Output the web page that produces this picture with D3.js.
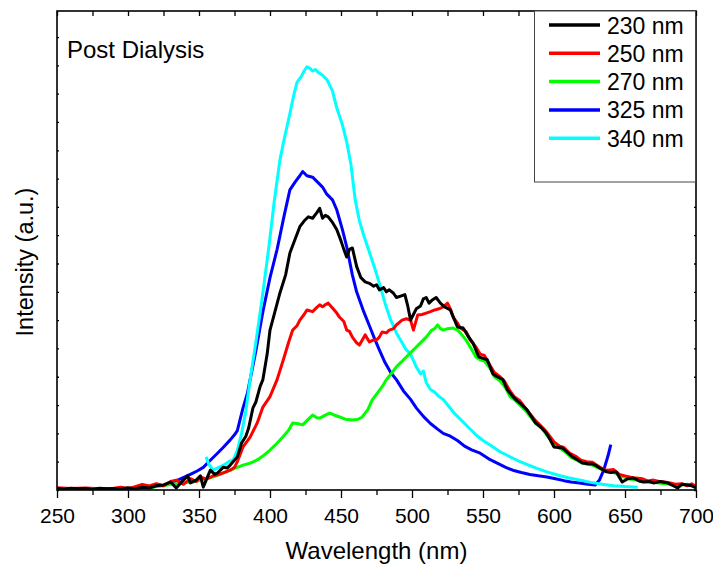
<!DOCTYPE html>
<html>
<head>
<meta charset="utf-8">
<script src="https://cdn.jsdelivr.net/npm/d3@7"></script>
<style>
  body { margin: 0; background: #fff; }
  svg text { font-family: "Liberation Sans", Arial, sans-serif; fill: #000; }
</style>
</head>
<body>
<div id="main"></div>
<script>
const ctx = {
    w: 713,
    h: 565,
    left: 57,
    right: 696,
    top: 11,
    bottom: 490,
};

// excitation wavelengths (legend)
const labels = ["230 nm", "250 nm", "270 nm", "325 nm", "340 nm"];
const colors = ["#000000", "#ff0000", "#00ff00", "#0000ff", "#00ffff"];
const xTicks = [250, 300, 350, 400, 450, 500, 550, 600, 650, 700];

// emission spectra, wavelength (nm) and intensity (a.u.)
const wl230 = [250,255,260,265,270,275,280,285,290,295,300,305,310,315,320,325,330,334,339,342,344,348,351,353,358,361,363,367,370,372,377,380,383,385,388,390,393,395,398,400,404,407,411,414,418,421,424,427,430,433,435,437,439,441,444,447,450,452,454,456,458,461,464,467,470,473,475,477,480,482,484,487,489,492,495,497,499,501,503,506,508,510,512,514,517,520,523,527,530,532,536,540,543,547,550,553,557,560,564,567,571,574,576,581,584,587,590,594,597,600,603,606,610,613,617,620,624,627,630,633,637,640,644,646,648,652,656,660,663,667,670,675,680,684,687,690,694,697,700];
const i230 = [0.05,0.03,0.06,0.04,0.05,0.02,0.06,0.04,0.05,0.03,0.08,0.04,0.1,0.07,0.15,0.18,0.28,0.07,0.35,0.5,0.25,0.35,0.5,0.1,0.7,0.55,0.6,0.8,0.78,0.88,1.17,1.66,1.9,2.2,2.9,3.1,3.65,3.9,4.8,5.65,6.4,6.96,7.6,8.37,8.9,9.3,9.5,9.65,9.6,9.8,9.95,9.6,9.7,9.65,9.45,9.2,8.8,8.5,8.23,8.5,8.55,7.9,7.5,7.35,7.3,7.2,7.25,7.07,7.15,7.0,7.07,6.95,6.8,6.85,6.9,6.5,6.0,6.2,6.4,6.5,6.75,6.8,6.6,6.7,6.8,6.6,6.47,6.36,6.0,5.76,5.72,5.4,5.19,4.7,4.65,4.6,4.1,4.0,3.9,3.55,3.3,3.15,3.07,2.83,2.6,2.37,2.25,2.05,1.8,1.52,1.5,1.48,1.3,1.17,1.05,0.95,0.93,0.92,0.85,0.75,0.64,0.62,0.64,0.45,0.28,0.4,0.42,0.32,0.28,0.3,0.25,0.3,0.25,0.15,0.07,0.2,0.18,0.15,0.07];

const wl250 = [250,260,270,280,290,295,300,305,310,315,320,325,330,334,339,344,348,351,355,360,363,368,372,375,377,381,386,391,395,400,405,410,413,416,419,421,424,426,430,433,435,437,439,441,444,447,449,452,454,456,458,461,463,465,467,470,473,475,477,479,482,484,487,489,493,496,499,501,504,507,510,513,516,519,522,525,527,529,532,534,538,541,545,548,551,555,558,562,565,569,572,576,579,583,587,590,594,597,600,604,607,611,615,619,623,627,631,635,638,642,646,650,654,658,662,666,670,674,678,682,686,690,694,697,700];
const i250 = [0.08,0.05,0.07,0.04,0.06,0.1,0.05,0.12,0.2,0.14,0.22,0.15,0.3,0.35,0.2,0.4,0.3,0.46,0.38,0.5,0.53,0.62,0.7,0.8,1.0,1.52,1.87,2.37,2.93,3.3,3.9,4.7,5.2,5.65,5.8,6.0,6.2,6.36,6.3,6.45,6.54,6.47,6.55,6.6,6.43,6.25,6.1,5.95,5.65,5.6,5.4,5.2,5.12,5.3,5.48,5.23,5.3,5.3,5.4,5.58,5.55,5.65,5.7,5.83,6.0,6.05,6.0,5.65,6.18,6.2,6.25,6.3,6.36,6.4,6.47,6.6,6.4,6.1,5.9,5.72,5.6,5.3,5.05,4.8,4.75,4.4,4.15,4.0,3.85,3.5,3.3,3.15,2.95,2.7,2.45,2.3,2.1,1.9,1.7,1.55,1.5,1.3,1.2,1.05,1.0,0.98,0.85,0.72,0.7,0.72,0.55,0.5,0.45,0.42,0.4,0.32,0.35,0.3,0.28,0.25,0.2,0.22,0.15,0.22,0.12];

const wl270 = [250,260,270,280,290,300,305,310,315,320,325,330,335,339,344,348,351,355,359,363,367,372,376,381,386,391,395,400,404,409,413,416,419,423,426,430,433,435,438,442,445,449,453,458,462,465,469,472,476,479,482,486,489,493,496,500,503,507,510,514,516,518,520,522,525,529,532,534,538,541,545,548,551,555,558,562,566,569,573,576,580,584,587,591,594,598,601,605,609,612,616,620,624,627,631,635,639,643,646,650,654,658,662,666,670,674,678,682,686,690,694,697,700];
const i270 = [0.03,0.05,0.03,0.04,0.05,0.03,0.06,0.05,0.07,0.12,0.15,0.2,0.22,0.25,0.28,0.3,0.35,0.4,0.45,0.53,0.6,0.7,0.78,0.88,0.95,1.06,1.2,1.41,1.6,1.87,2.1,2.37,2.35,2.3,2.45,2.65,2.55,2.54,2.62,2.72,2.65,2.58,2.5,2.47,2.5,2.58,2.85,3.18,3.45,3.65,3.9,4.15,4.35,4.55,4.7,4.9,5.05,5.25,5.4,5.65,5.7,5.83,5.7,5.65,5.7,5.72,5.65,5.55,5.3,5.05,4.7,4.6,4.55,4.3,4.0,3.85,3.6,3.3,3.15,3.0,2.8,2.55,2.35,2.2,2.0,1.75,1.55,1.45,1.3,1.15,1.05,0.95,0.9,0.88,0.78,0.7,0.65,0.6,0.5,0.45,0.38,0.35,0.3,0.28,0.27,0.25,0.22,0.2,0.15,0.18,0.2,0.15,0.1];

const wl325 = [330,335,340,345,349,353,358,363,367,372,375,377,379,381,384,386,390,395,400,405,410,414,418,421,423,426,430,433,437,440,444,447,451,454,458,461,466,470,474,477,481,485,489,494,499,503,508,513,518,522,527,532,537,542,548,554,560,566,571,577,583,589,595,601,607,612,618,624,629,632,635,638,640];
const i325 = [0.25,0.35,0.46,0.58,0.68,0.8,1.05,1.3,1.5,1.77,1.95,2.1,2.5,2.9,3.4,3.9,4.9,6.3,7.5,8.5,9.7,10.6,10.9,11.1,11.25,11.1,11.05,10.9,10.7,10.45,10.25,9.9,9.2,8.6,7.6,7.0,6.3,5.8,5.3,4.95,4.5,4.15,3.9,3.5,3.2,2.9,2.6,2.35,2.15,2.0,1.9,1.75,1.55,1.42,1.3,1.1,0.95,0.8,0.7,0.62,0.55,0.5,0.46,0.4,0.33,0.28,0.25,0.2,0.18,0.35,0.7,1.2,1.6];

const wl340 = [355,357,360,364,368,371,374,377,380,383,386,390,394,399,403,407,410,414,417,419,422,424,426,428,430,432,434,437,440,444,447,451,454,457,460,463,466,470,474,477,481,485,489,493,496,499,503,506,508,510,513,516,519,522,526,530,535,540,545,550,556,562,568,574,580,587,595,603,610,618,626,634,642,650,659];
const i340 = [1.17,0.9,0.7,0.8,0.9,1.0,1.06,1.4,2.0,2.8,3.9,5.2,6.6,8.5,10.2,11.66,12.4,13.3,14.0,14.4,14.6,14.8,14.95,14.9,14.8,14.85,14.75,14.65,14.5,14.1,13.5,12.9,12.3,11.5,10.25,9.5,9.0,8.4,7.8,7.3,6.6,6.0,5.55,5.2,4.95,4.8,4.35,4.1,4.2,3.8,3.55,3.45,3.3,3.2,2.95,2.7,2.45,2.2,1.95,1.75,1.55,1.35,1.2,1.05,0.92,0.78,0.64,0.52,0.43,0.35,0.27,0.2,0.15,0.12,0.1];

const series = [
    {wl: wl230, v: i230},
    {wl: wl250, v: i250},
    {wl: wl270, v: i270},
    {wl: wl325, v: i325},
    {wl: wl340, v: i340},
];

function createChart(svg) {
    let x = d3.scaleLinear().domain([250, 700]).range([ctx.left, ctx.right]);
    let y = d3.scaleLinear().domain([0, 16.92]).range([ctx.bottom, ctx.top]);

    svg.append("clipPath").attr("id", "plot-clip")
       .append("rect")
       .attr("x", ctx.left).attr("y", ctx.top)
       .attr("width", ctx.right - ctx.left).attr("height", ctx.bottom - ctx.top);

    let line = d3.line()
        .x(d => x(d[0]))
        .y(d => y(d[1]));

    // back to front: 325, 340, 270, 250, 230
    let order = [3, 4, 2, 1, 0];
    svg.append("g").attr("clip-path", "url(#plot-clip)")
       .selectAll("path")
       .data(order)
       .enter()
       .append("path")
       .attr("d", i => line(series[i].wl.map((w, k) => [w, series[i].v[k]])))
       .attr("fill", "none")
       .attr("stroke", i => colors[i])
       .attr("stroke-width", 3)
       .attr("stroke-linejoin", "round");

    // axes
    let minor = d3.range(275, 700, 50);
    svg.append("g")
       .attr("transform", `translate(0,${ctx.bottom})`)
       .call(d3.axisBottom(x).tickValues(xTicks).tickSize(8).tickPadding(9).tickFormat(d3.format("d")))
       .call(g => g.select(".domain").remove())
       .call(g => g.selectAll("text").style("font-size", "21px").attr("dy", "0.75em"));
    svg.append("g")
       .attr("transform", `translate(0,${ctx.bottom})`)
       .call(d3.axisBottom(x).tickValues(minor).tickSize(5).tickFormat(""))
       .call(g => g.select(".domain").remove());
    svg.append("g")
       .attr("transform", `translate(0,${ctx.top})`)
       .call(d3.axisTop(x).tickValues(d3.range(250, 701, 25)).tickSize(-5).tickFormat(""))
       .call(g => g.select(".domain").remove());
    svg.append("g")
       .attr("transform", `translate(${ctx.left},0)`)
       .call(d3.axisLeft(y).tickValues(d3.range(0, 17)).tickSize(-2).tickFormat(""))
       .call(g => g.select(".domain").remove());
    svg.append("g")
       .attr("transform", `translate(${ctx.right},0)`)
       .call(d3.axisRight(y).tickValues(d3.range(0, 17)).tickSize(-2).tickFormat(""))
       .call(g => g.select(".domain").remove());
    svg.selectAll(".tick line").attr("stroke", "#000").attr("stroke-width", 1.3);

    svg.append("rect")
       .attr("x", ctx.left).attr("y", ctx.top)
       .attr("width", ctx.right - ctx.left).attr("height", ctx.bottom - ctx.top)
       .attr("fill", "none").attr("stroke", "#000").attr("stroke-width", 1.6);

    // titles
    svg.append("text")
       .attr("x", (ctx.left + ctx.right) / 2).attr("y", 559)
       .attr("text-anchor", "middle").style("font-size", "24px")
       .text("Wavelength (nm)");
    svg.append("text")
       .attr("transform", "translate(33,262) rotate(-90)")
       .attr("text-anchor", "middle").style("font-size", "23.5px")
       .text("Intensity (a.u.)");
    svg.append("text")
       .attr("x", 67).attr("y", 58)
       .style("font-size", "24px")
       .text("Post Dialysis");

    // legend
    let lg = svg.append("g");
    lg.append("rect")
      .attr("x", 534.5).attr("y", ctx.top).attr("width", 161).attr("height", 171)
      .attr("fill", "#fff").attr("stroke", "#444").attr("stroke-width", 1);
    let rows = lg.selectAll("g.row")
      .data(labels)
      .enter()
      .append("g")
      .attr("class", "row")
      .attr("transform", (d, i) => `translate(0,${25 + i * 28.3})`);
    rows.append("line")
      .attr("x1", 549).attr("x2", 600)
      .attr("stroke", (d, i) => colors[i]).attr("stroke-width", 3.5);
    rows.append("text")
      .attr("x", 607).attr("y", 8.5)
      .style("font-size", "23px")
      .text(d => d);
}

function createViz() {
    let svgEl = d3.select("#main").append("svg");
    svgEl.attr("width", ctx.w);
    svgEl.attr("height", ctx.h);
    createChart(svgEl);
}

createViz();
</script>
</body>
</html>
